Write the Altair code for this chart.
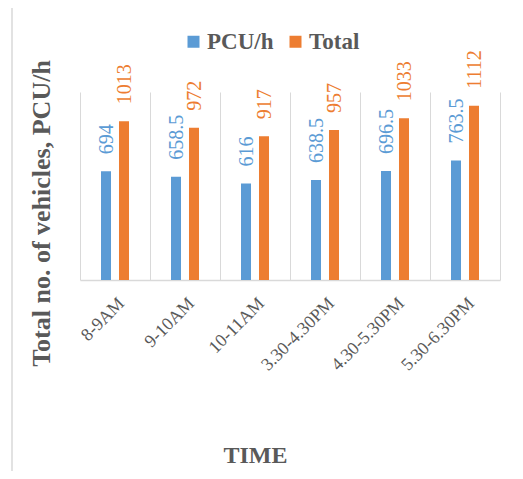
import altair as alt
import pandas as pd

times = ["8-9AM", "9-10AM", "10-11AM", "3.30-4.30PM", "4.30-5.30PM", "5.30-6.30PM"]
pcu = [694, 658.5, 616, 638.5, 696.5, 763.5]
total = [1013, 972, 917, 957, 1033, 1112]
series = ["PCU/h", "Total"]
colors = ["#5B9BD5", "#ED7D31"]

rows = []
for t, p, tot in zip(times, pcu, total):
    rows.append({"time": t, "series": series[0], "value": p, "label": f"{p:g}"})
    rows.append({"time": t, "series": series[1], "value": tot, "label": f"{tot:g}"})
df = pd.DataFrame(rows)

FONT = "Liberation Serif"
GREY = "#595959"
LINE = "#d9d9d9"

x = alt.X(
    "time:N",
    sort=times,
    scale=alt.Scale(paddingInner=0, paddingOuter=0),
    axis=alt.Axis(
        title="TIME",
        titleFont=FONT,
        titleFontSize=24,
        titleFontWeight="bold",
        titleColor=GREY,
        titleX=175,
        titleY=175,
        titleBaseline="middle",
        labelAngle=-45,
        labelAlign="right",
        labelBaseline="top",
        labelFont=FONT,
        labelFontSize=18,
        labelColor=GREY,
        labelPadding=14,
        ticks=False,
        grid=True,
        tickBand="extent",
        gridColor=LINE,
        gridWidth=1,
        domainColor=LINE,
        domainWidth=1.5,
    ),
)
xo = alt.XOffset(
    "series:N",
    sort=series,
    scale=alt.Scale(range=[21, 49], paddingInner=0.444, paddingOuter=0),
)
y = alt.Y(
    "value:Q",
    scale=alt.Scale(domain=[0, 1200]),
    axis=alt.Axis(
        title="Total no. of  vehicles, PCU/h",
        titleFont=FONT,
        titleFontSize=26,
        titleFontWeight="bold",
        titleColor=GREY,
        titleX=-39,
        titleY=121,
        titleAngle=270,
        titleBaseline="middle",
        titleAlign="center",
        labels=False,
        ticks=False,
        domain=False,
        grid=False,
    ),
)
color = alt.Color(
    "series:N",
    sort=series,
    scale=alt.Scale(domain=series, range=colors),
    legend=alt.Legend(
        title=None,
        orient="none",
        legendX=102,
        legendY=-62,
        direction="horizontal",
        symbolType="square",
        symbolSize=144,
        symbolStrokeWidth=0,
        labelFont=FONT,
        labelFontSize=23,
        labelFontWeight="bold",
        labelColor=GREY,
        labelOffset=2,
        columnPadding=10,
    ),
)

base = alt.Chart(df)
bars = base.mark_bar().encode(x=x, xOffset=xo, y=y, color=color)
labels = base.mark_text(
    angle=270, align="left", baseline="middle", dx=17, dy=1, font=FONT, fontSize=20
).encode(x=x, xOffset=xo, y=y, text="label:N", color=color)

frame_data = alt.Data(values=[{"a": 1}])
left_edge = alt.Chart(frame_data).mark_rule(stroke=LINE, strokeWidth=1.5).encode(
    x=alt.value(-68), y=alt.value(-87), y2=alt.value(400)
)
top_edge = alt.Chart(frame_data).mark_rule(stroke=LINE, strokeWidth=1.5).encode(
    x=alt.value(-68), x2=alt.value(460), y=alt.value(-87)
)

chart = (
    alt.layer(left_edge, top_edge, bars, labels)
    .properties(
        width=420,
        height=188,
        autosize=alt.AutoSizeParams(type="none"),
        padding={"left": 72, "top": 84, "right": 15, "bottom": 191},
    )
    .configure_view(stroke=None)
)

chart.save("out.html", embed_options={"renderer": "svg", "actions": False})
